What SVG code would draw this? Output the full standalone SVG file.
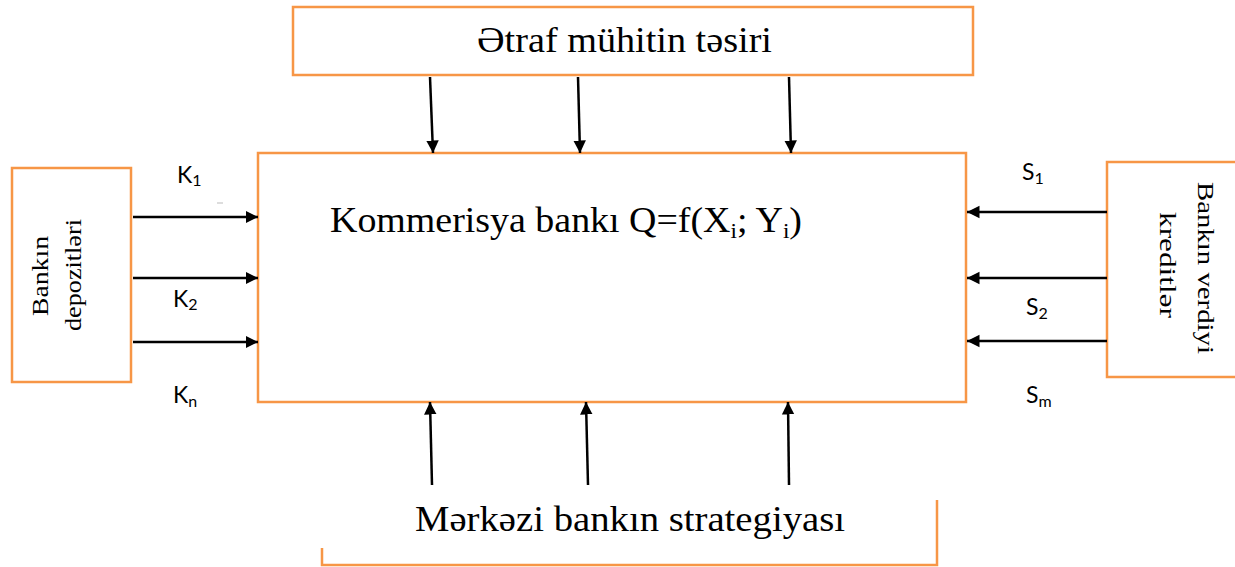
<svg xmlns="http://www.w3.org/2000/svg" width="1235" height="567" viewBox="0 0 1235 567">
<style>
.box{fill:#fff;stroke:#F79646;stroke-width:2.5}
.brk{fill:none;stroke:#F79646;stroke-width:2.5}
.con{stroke:#000;stroke-width:2.5;fill:none;marker-end:url(#ah)}
.serif{font-family:"Liberation Serif","Times New Roman",serif;fill:#000}
.sans{font-family:Lato,"Liberation Sans",Arial,sans-serif;fill:#000;font-size:23px}
.sub{font-size:16px}
</style>
<defs>
<marker id="ah" viewBox="0 0 10 10" refX="10" refY="5" markerWidth="5" markerHeight="5.5" orient="auto" markerUnits="strokeWidth">
<path d="M0,0 L10,5 L0,10 Z" fill="#000"/>
</marker>
</defs>
<rect width="1235" height="567" fill="#fff"/>
<g id="top-node">
<rect class="box" x="293" y="7" width="680" height="68"/>
<text class="serif" x="477" y="52" font-size="35" textLength="295" lengthAdjust="spacingAndGlyphs">Ətraf mühitin təsiri</text>
</g>
<g id="main-node">
<rect class="box" x="258" y="153" width="708" height="249"/>
<text class="serif" x="330" y="232" font-size="36" textLength="472" lengthAdjust="spacingAndGlyphs">Kommerisya bankı Q=f(X<tspan font-size="22" dy="6">i</tspan><tspan dy="-6">; Y</tspan><tspan font-size="22" dy="6">i</tspan><tspan dy="-6">)</tspan></text>
</g>
<g id="left-node">
<rect class="box" x="12" y="168" width="119" height="214"/>
<text class="serif" font-size="23" text-anchor="middle" textLength="80" lengthAdjust="spacingAndGlyphs" transform="translate(48,276) rotate(-90)">Bankın</text>
<text class="serif" font-size="23" text-anchor="middle" textLength="112" lengthAdjust="spacingAndGlyphs" transform="translate(81,275) rotate(-90)">depozitləri</text>
</g>
<g id="right-node">
<rect class="box" x="1107" y="162" width="140" height="215"/>
<text class="serif" font-size="24" text-anchor="middle" textLength="172" lengthAdjust="spacingAndGlyphs" transform="translate(1198,268) rotate(90)">Bankın verdiyi</text>
<text class="serif" font-size="24" text-anchor="middle" textLength="106" lengthAdjust="spacingAndGlyphs" transform="translate(1160,265) rotate(90)">kreditlər</text>
</g>
<g id="bottom-node">
<path class="brk" d="M322,548 V565 H937 V500"/>
<text class="serif" x="415" y="531" font-size="35" textLength="430" lengthAdjust="spacingAndGlyphs">Mərkəzi bankın strategiyası</text>
</g>
<g id="connectors">
<line class="con" x1="430" y1="77" x2="433" y2="153"/>
<line class="con" x1="578" y1="77" x2="580" y2="153"/>
<line class="con" x1="789" y1="77" x2="791" y2="153"/>
<line class="con" x1="432" y1="485" x2="430" y2="402"/>
<line class="con" x1="588" y1="485" x2="586" y2="402"/>
<line class="con" x1="789" y1="485" x2="788" y2="402"/>
<line class="con" x1="133" y1="217" x2="258" y2="217"/>
<line class="con" x1="133" y1="278" x2="258" y2="278"/>
<line class="con" x1="133" y1="342" x2="258" y2="342"/>
<line class="con" x1="1107" y1="212" x2="967" y2="212"/>
<line class="con" x1="1107" y1="278" x2="967" y2="278"/>
<line class="con" x1="1107" y1="341" x2="967" y2="341"/>
</g>
<g id="labels">
<text class="sans" x="177" y="183">K<tspan class="sub" dy="3">1</tspan></text>
<text class="sans" x="173" y="307">K<tspan class="sub" dy="3">2</tspan></text>
<text class="sans" x="173" y="403">K<tspan class="sub" dy="4">n</tspan></text>
<text class="sans" x="1022" y="180">S<tspan class="sub" dy="4">1</tspan></text>
<text class="sans" x="1026" y="315">S<tspan class="sub" dy="4">2</tspan></text>
<text class="sans" x="1026" y="403">S<tspan class="sub" dy="4">m</tspan></text>
<line x1="217" y1="203" x2="223" y2="203" stroke="#bbb" stroke-width="1"/>
</g>
</svg>
